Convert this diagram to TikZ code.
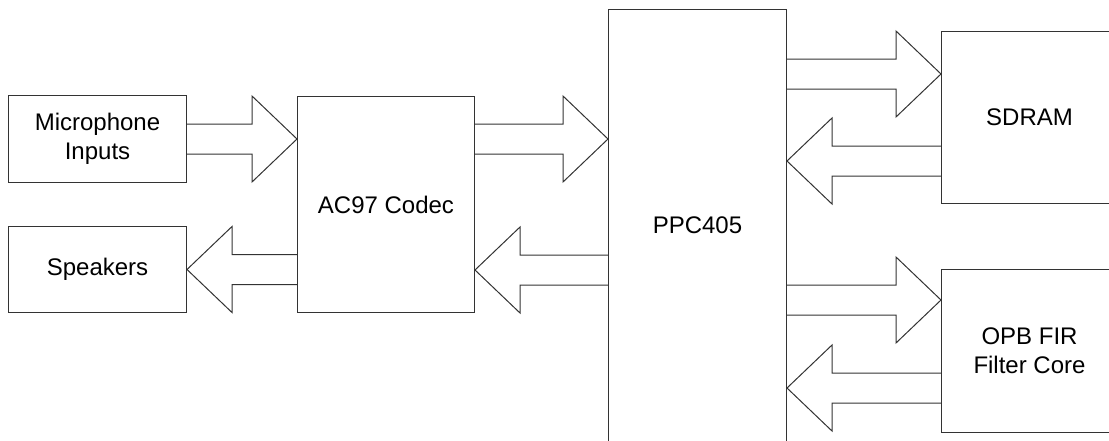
\documentclass[tikz,border=0pt]{standalone}
\usepackage{fontspec}
\setmainfont{Liberation Sans}
\usetikzlibrary{positioning, calc}

% fat outline arrow between two points at the same height
\newcommand{\busarrow}[2]{%
  \draw[bus] let \p1=(#1), \p2=(#2), \n2={\x2-45pt*(\x2-\x1)/abs(\x2-\x1)} in
    (\x1,\y1+15pt) -- (\n2,\y1+15pt) -- (\n2,\y1+43pt) -- (\x2,\y1)
    -- (\n2,\y1-43pt) -- (\n2,\y1-15pt) -- (\x1,\y1-15pt);%
}

\begin{document}
\begin{tikzpicture}[
    x=1pt, y=-1pt,
    block/.style={rectangle, draw=black!80, line width=1pt, anchor=north west, align=center, inner sep=0pt, font=\fontsize{24}{29}\selectfont},
    bus/.style={draw=black!80, line width=1pt, line join=miter}
]
    \useasboundingbox (0,0) rectangle (1109,440);
    \clip (0,0) rectangle (1109,440);

    % left side
    \node[block, minimum width=178pt, minimum height=87pt] (mic) at (8,95) {Microphone\\Inputs};
    \node[block, minimum width=178pt, minimum height=86pt] (speakers) at (8,226) {Speakers};
    \node[block, minimum width=177pt, minimum height=216pt] (ac97) at (297,96) {AC97 Codec};

    % processor
    \node[block, minimum width=178pt, minimum height=432pt] (ppc) at (608,9) {PPC405};

    % right side
    \node[block, minimum width=176pt, minimum height=172pt] (sdram) at (941,31) {SDRAM};
    \node[block, minimum width=176pt, minimum height=163pt] (opb) at (941,269) {OPB FIR\\Filter Core};

    % arrow heights
    \coordinate (a2p) at ($(ac97.north east)+(0,43)$);
    \coordinate (p2a) at ($(ac97.south east)+(0,-43)$);
    \coordinate (p2s) at ($(sdram.north west)+(0,43)$);
    \coordinate (s2p) at ($(sdram.south west)+(0,-43)$);
    \coordinate (p2o) at ($(opb.north west)+(0,31)$);
    \coordinate (o2p) at ($(opb.south west)+(0,-45)$);

    % buses
    \busarrow{mic.east}{mic.east -| ac97.west}
    \busarrow{speakers.east -| ac97.west}{speakers.east}
    \busarrow{a2p}{a2p -| ppc.west}
    \busarrow{p2a -| ppc.west}{p2a}
    \busarrow{p2s -| ppc.east}{p2s}
    \busarrow{s2p}{s2p -| ppc.east}
    \busarrow{p2o -| ppc.east}{p2o}
    \busarrow{o2p}{o2p -| ppc.east}

\end{tikzpicture}
\end{document}
